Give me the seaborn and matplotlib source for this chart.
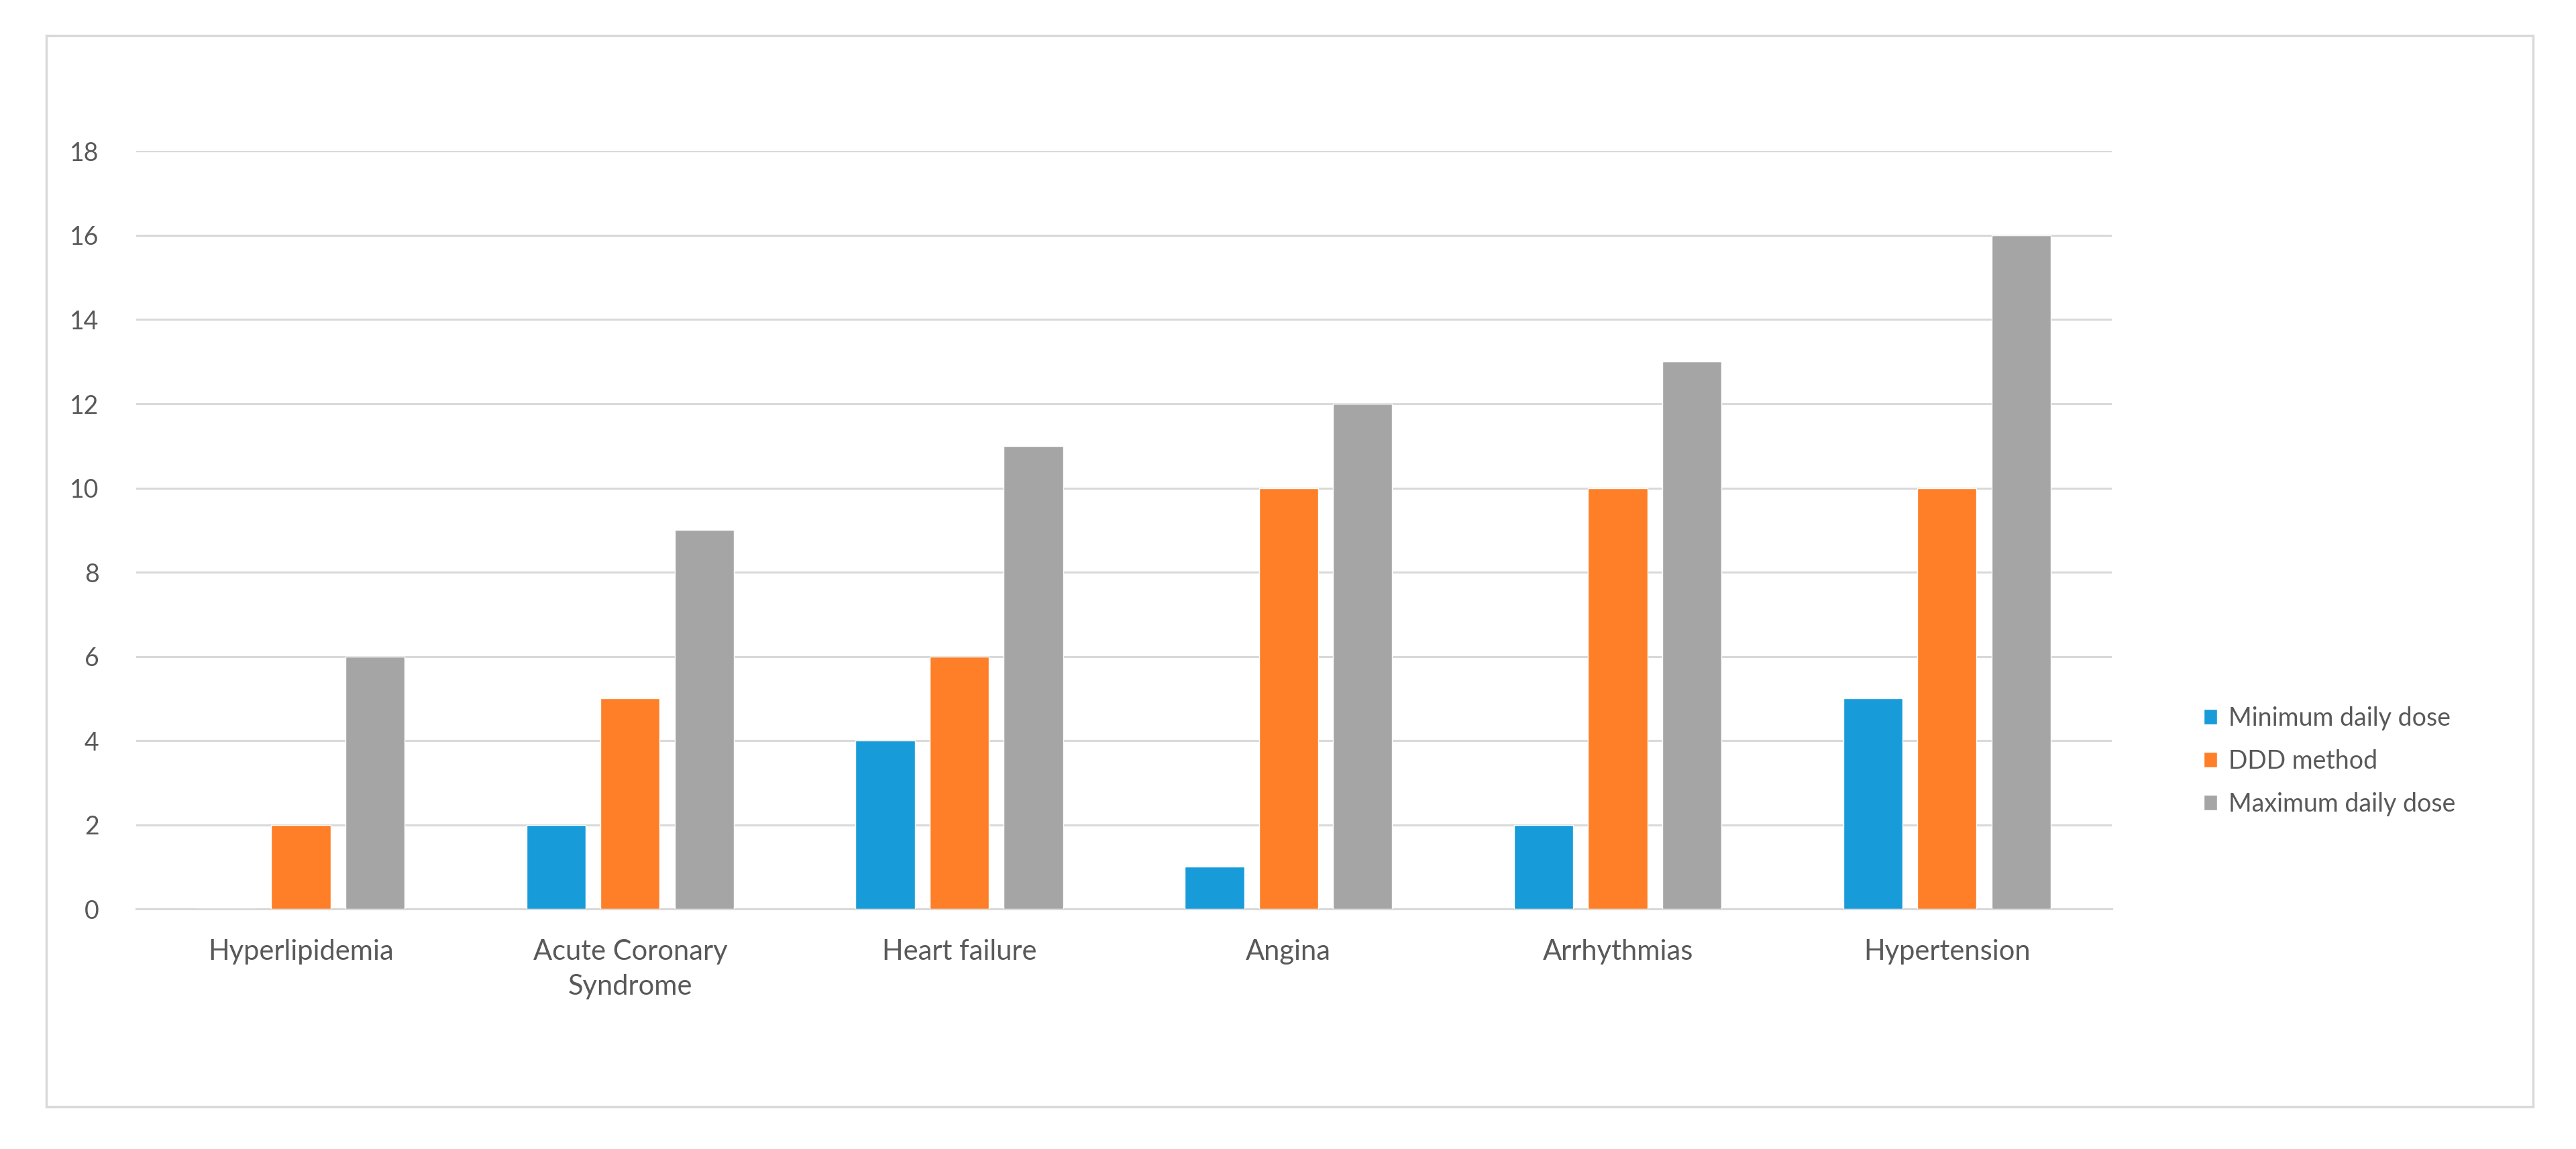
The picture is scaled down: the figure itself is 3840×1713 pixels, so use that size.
import matplotlib
matplotlib.use("Agg")
import matplotlib.pyplot as plt
import seaborn as sns
import pandas as pd
from matplotlib.patches import Rectangle

# Chart values
categories = [
    "Hyperlipidemia",
    "Acute Coronary\nSyndrome",
    "Heart failure",
    "Angina",
    "Arrhythmias",
    "Hypertension",
]
min_daily_dose = [0, 2, 4, 1, 2, 5]
ddd_method = [2, 5, 6, 10, 10, 10]
max_daily_dose = [6, 9, 11, 12, 13, 16]
series_names = ["Minimum daily dose", "DDD method", "Maximum daily dose"]
y_ticks = [0, 2, 4, 6, 8, 10, 12, 14, 16, 18]


def build_frame():
    rows = []
    for name, values in zip(series_names, [min_daily_dose, ddd_method, max_daily_dose]):
        for cat, val in zip(categories, values):
            rows.append({"category": cat, "series": name, "value": val})
    return pd.DataFrame(rows)


def main():
    sns.set_theme(style="white")
    plt.rcParams["font.family"] = ["Lato", "DejaVu Sans"]
    text_color = "#595959"
    grid_color = "#D9D9D9"

    df = build_frame()
    fig = plt.figure(figsize=(38.41, 17.13), dpi=100)
    ax = fig.add_axes([0.0529, 0.2089, 0.7666, 0.6595])

    palette = ["#189CD9", "#FE7F27", "#A5A5A5"]
    sns.barplot(
        data=df,
        x="category",
        y="value",
        hue="series",
        hue_order=series_names,
        order=categories,
        palette=palette,
        width=0.675,
        gap=0.2,
        saturation=1,
        ax=ax,
        zorder=3,
    )

    ax.set_ylim(0, 18)
    ax.set_xlim(-0.5, len(categories) - 0.5)
    ax.set_yticks(y_ticks)
    ax.yaxis.grid(True, color=grid_color, linewidth=2.2, zorder=0)
    ax.set_axisbelow(True)
    for side in ["top", "right", "left"]:
        ax.spines[side].set_visible(False)
    ax.spines["bottom"].set_color(grid_color)
    ax.spines["bottom"].set_linewidth(2.2)
    ax.set_xlabel("")
    ax.set_ylabel("")
    ax.tick_params(axis="y", length=0, pad=40, labelsize=27, labelcolor=text_color)
    ax.tick_params(axis="x", length=0, pad=32, labelsize=30, labelcolor=text_color)
    for lbl in ax.get_xticklabels():
        lbl.set_linespacing(1.45)

    leg = ax.legend(
        loc="center left",
        bbox_to_anchor=(1.035, 0.195),
        frameon=False,
        fontsize=27,
        handlelength=0.55,
        handleheight=0.55,
        handletextpad=0.45,
        labelspacing=0.75,
    )
    for t in leg.get_texts():
        t.set_color(text_color)

    # outer chart border
    fig.patches.append(
        Rectangle(
            (0.018, 0.037), 0.965, 0.932,
            transform=fig.transFigure, fill=False,
            edgecolor=grid_color, linewidth=2.5,
        )
    )

    fig.savefig("out.png", dpi=100, facecolor="white")


if __name__ == "__main__":
    main()
